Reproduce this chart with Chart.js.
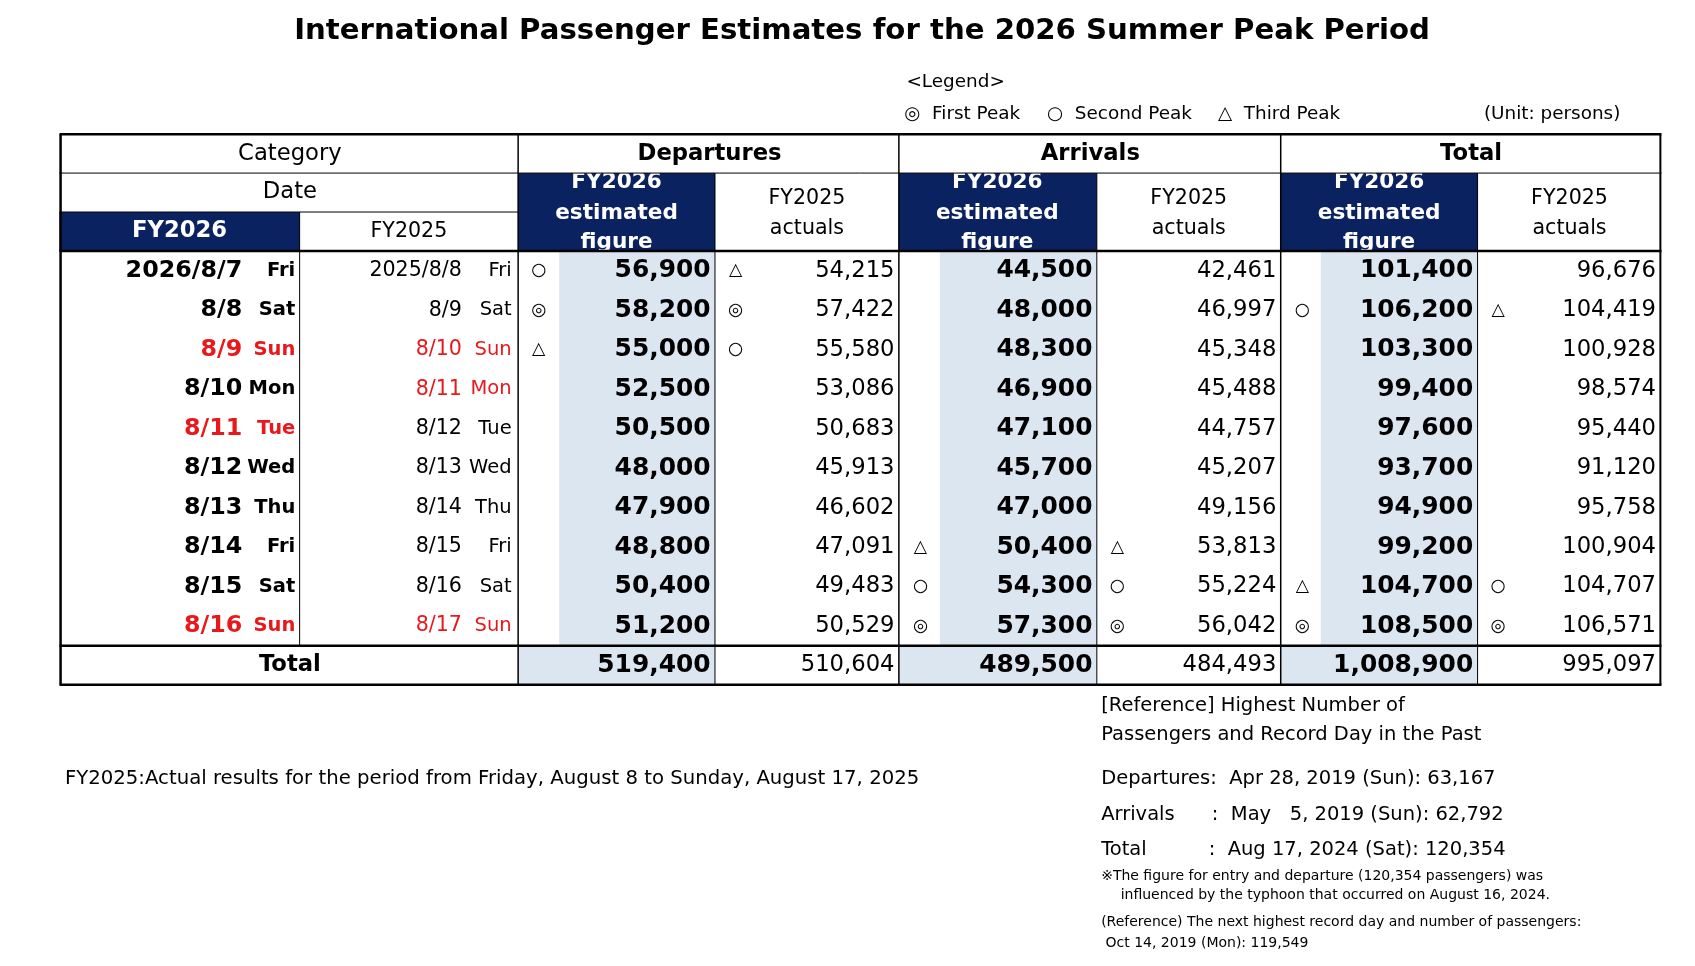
<!DOCTYPE html>
<html><head><meta charset="utf-8">
<script src="https://cdn.jsdelivr.net/npm/chart.js@4/dist/chart.umd.min.js"></script>
<style>
html,body{margin:0;padding:0;background:#fff;}
#wrap{position:relative;width:1695px;height:966px;}
</style></head>
<body>
<div id="wrap"><canvas id="tbl" width="1695" height="966"></canvas></div>
<script>
// table data
const dates26 = ["2026/8/7", "8/8", "8/9", "8/10", "8/11", "8/12", "8/13", "8/14", "8/15", "8/16"];
const days26 = ["Fri", "Sat", "Sun", "Mon", "Tue", "Wed", "Thu", "Fri", "Sat", "Sun"];
const red26 = [false, false, true, false, true, false, false, false, false, true];
const dates25 = ["2025/8/8", "8/9", "8/10", "8/11", "8/12", "8/13", "8/14", "8/15", "8/16", "8/17"];
const days25 = ["Fri", "Sat", "Sun", "Mon", "Tue", "Wed", "Thu", "Fri", "Sat", "Sun"];
const red25 = [false, false, true, true, false, false, false, false, false, true];

const dep26 = [56900, 58200, 55000, 52500, 50500, 48000, 47900, 48800, 50400, 51200];
const dep25 = [54215, 57422, 55580, 53086, 50683, 45913, 46602, 47091, 49483, 50529];
const arr26 = [44500, 48000, 48300, 46900, 47100, 45700, 47000, 50400, 54300, 57300];
const arr25 = [42461, 46997, 45348, 45488, 44757, 45207, 49156, 53813, 55224, 56042];
const tot26 = [101400, 106200, 103300, 99400, 97600, 93700, 94900, 99200, 104700, 108500];
const tot25 = [96676, 104419, 100928, 98574, 95440, 91120, 95758, 100904, 104707, 106571];
const totals = [519400, 510604, 489500, 484493, 1008900, 995097];

// peak marks: ◎ first, ○ second, △ third
const markDep26 = ["○", "◎", "△", "", "", "", "", "", "", ""];
const markDep25 = ["△", "◎", "○", "", "", "", "", "", "", ""];
const markArr26 = ["", "", "", "", "", "", "", "△", "○", "◎"];
const markArr25 = ["", "", "", "", "", "", "", "△", "○", "◎"];
const markTot26 = ["", "○", "", "", "", "", "", "", "△", "◎"];
const markTot25 = ["", "△", "", "", "", "", "", "", "○", "◎"];

const NAVY = "#0b2260";
const BLUE = "#dce6f1";
const RED = "#e8191c";
const F = "'DejaVu Sans', Verdana, sans-serif";
const K = 1695 / 1567; // font scale

const tablePlugin = {
  id: "tablePlugin",
  afterDraw(chart) {
    const c = chart.ctx, xs = chart.scales.x, ys = chart.scales.y;
    const X = v => xs.getPixelForValue(v), Y = v => ys.getPixelForValue(v);
    const rect = (x0, y0, x1, y1, col) => { c.fillStyle = col; c.fillRect(X(x0), Y(y0), X(x1) - X(x0), Y(y1) - Y(y0)); };
    const line = (x0, y0, x1, y1, w) => { c.beginPath(); c.lineWidth = w; c.strokeStyle = "#000"; c.moveTo(X(x0), Y(y0)); c.lineTo(X(x1), Y(y1)); c.stroke(); };
    const font = (w, s) => (w ? w + " " : "") + (s * K).toFixed(1) + "px " + F;
    const text = (s, x, y, fnt, col, align) => { c.font = fnt; c.fillStyle = col || "#000"; c.textAlign = align || "center"; c.textBaseline = "middle"; c.fillText(s, X(x), Y(y)); };
    const fmt = n => n.toLocaleString("en-US");

    // title + legend
    text("International Passenger Estimates for the 2026 Summer Peak Period", 797, 29, font("bold", 27));
    text("<Legend>", 838, 76, font("", 17), "#000", "left");
    text("◎  First Peak", 836, 106, font("", 17), "#000", "left");
    text("○  Second Peak", 968, 106, font("", 17), "#000", "left");
    text("△  Third Peak", 1126, 106, font("", 17), "#000", "left");
    text("(Unit: persons)", 1498, 106, font("", 17), "#000", "right");

    const rowTop = 232, rh = 36.5;
    const ry = i => rowTop + rh * i + rh / 2;
    // blue fills
    [[517, 661], [869, 1014], [1221, 1366]].forEach(([a, b]) => rect(a, rowTop, b, rowTop + rh * 10, BLUE));
    [[479, 661], [831, 1014], [1184, 1366]].forEach(([a, b]) => rect(a, 597, b, 633, BLUE));
    // navy headers
    rect(55, 196, 277, 232, NAVY);
    [[479, 661], [831, 1014], [1184, 1366]].forEach(([a, b]) => rect(a, 160, b, 232, NAVY));

    // headers text
    text("Category", 268, 142, font("", 21));
    text("Date", 268, 178, font("", 21));
    text("FY2026", 166, 214, font("bold", 21), "#fff");
    text("FY2025", 378, 214, font("", 19));
    [["Departures", 570, 746, 656], ["Arrivals", 922, 1099, 1008], ["Total", 1275, 1451, 1360]].forEach(([t, a, b, m]) => {
      text(t, m, 142, font("bold", 21));
      text("FY2026", a, 169, font("bold", 20), "#fff");
      text("estimated", a, 197, font("bold", 20), "#fff");
      text("figure", a, 224, font("bold", 20), "#fff");
      text("FY2025", b, 184, font("", 19));
      text("actuals", b, 211, font("", 19));
    });

    // rows
    const cols = [
      [dep26, markDep26, 498, 657, true], [dep25, markDep25, 680, 827, false],
      [arr26, markArr26, 851, 1010, true], [arr25, markArr25, 1033, 1180, false],
      [tot26, markTot26, 1204, 1362, true], [tot25, markTot25, 1385, 1531, false]
    ];
    for (let i = 0; i < 10; i++) {
      const y = ry(i);
      text(dates26[i], 224, y, font("bold", 22), red26[i] ? RED : "#000", "right");
      text(days26[i], 273, y, font("bold", 18), red26[i] ? RED : "#000", "right");
      text(dates25[i], 427, y, font("", 19), red25[i] ? RED : "#000", "right");
      text(days25[i], 473, y, font("", 18), red25[i] ? RED : "#000", "right");
      cols.forEach(([vals, marks, mx, vx, bold]) => {
        if (marks[i]) text(marks[i], mx, y, font("", 16));
        text(fmt(vals[i]), vx, y, font(bold ? "bold" : "", bold ? 23 : 21), "#000", "right");
      });
    }
    text("Total", 268, 615, font("bold", 21));
    totals.forEach((v, k) => text(fmt(v), cols[k][3], 615, font(k % 2 === 0 ? "bold" : "", k % 2 === 0 ? 23 : 21), "#000", "right"));

    // grid lines
    line(55, 124, 1536, 124, 2.5);
    line(55, 160, 1536, 160, 1);
    line(55, 196, 479, 196, 1);
    line(55, 232, 1536, 232, 2.5);
    line(55, 597, 1536, 597, 2.5);
    line(55, 633, 1536, 633, 2.5);
    line(56, 124, 56, 633, 2.5);
    line(1535, 124, 1535, 633, 2);
    [479, 831, 1184].forEach(x => line(x, 124, x, 633, 1.5));
    [661, 1014, 1366].forEach(x => line(x, 160, x, 633, 1));
    line(277, 196, 277, 597, 1);

    // notes
    text("FY2025:Actual results for the period from Friday, August 8 to Sunday, August 17, 2025", 60, 720, font("", 18.2), "#000", "left");
    text("[Reference] Highest Number of", 1018, 653, font("", 18), "#000", "left");
    text("Passengers and Record Day in the Past", 1018, 679, font("", 18), "#000", "left");
    text("Departures:  Apr 28, 2019 (Sun): 63,167", 1018, 720, font("", 18), "#000", "left");
    text("Arrivals      :  May   5, 2019 (Sun): 62,792", 1018, 753, font("", 18), "#000", "left");
    text("Total          :  Aug 17, 2024 (Sat): 120,354", 1018, 786, font("", 18), "#000", "left");
    text("※The figure for entry and departure (120,354 passengers) was", 1018, 810, font("", 12.9), "#000", "left");
    text("influenced by the typhoon that occurred on August 16, 2024.", 1036, 828, font("", 12.9), "#000", "left");
    text("(Reference) The next highest record day and number of passengers:", 1018, 853, font("", 12.9), "#000", "left");
    text("Oct 14, 2019 (Mon): 119,549", 1022, 872, font("", 12.9), "#000", "left");
  }
};

new Chart(document.getElementById("tbl"), {
  type: "scatter",
  data: { datasets: [{ data: [] }] },
  options: {
    responsive: false, animation: false, devicePixelRatio: 1,
    layout: { padding: 0 },
    plugins: { legend: { display: false }, tooltip: { enabled: false } },
    scales: {
      x: { type: "linear", min: 0, max: 1567, display: false },
      y: { type: "linear", min: 0, max: 893, reverse: true, display: false }
    }
  },
  plugins: [tablePlugin]
});
</script>
</body></html>
